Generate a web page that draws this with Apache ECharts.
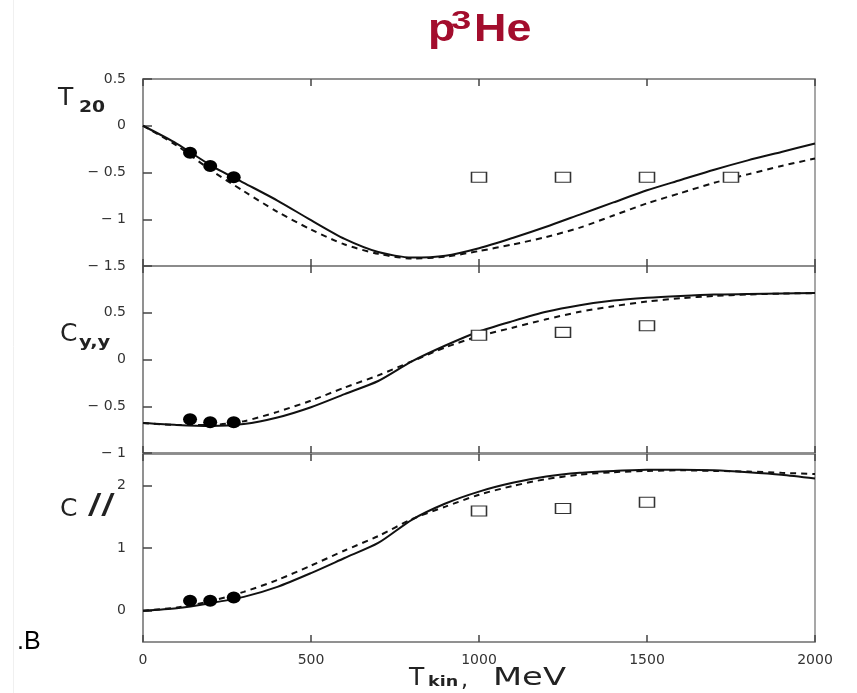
<!DOCTYPE html>
<html>
<head>
<meta charset="utf-8">
<script src="https://cdn.jsdelivr.net/npm/echarts@6/dist/echarts.min.js"></script>
<style>
  html, body { margin: 0; padding: 0; background: #fff; }
  #chart { width: 857px; height: 693px; }
</style>
</head>
<body>
<div id="chart"></div>
<script>
// Kinetic energy grid (MeV) for the model curves
const tKin = [0, 100, 200, 300, 400, 500, 600, 700, 800, 900, 1000,
              1100, 1200, 1300, 1400, 1500, 1600, 1700, 1800, 1900, 2000];

// T20: solid and dashed model curves
const t20Solid  = [0.00, -0.19, -0.42, -0.61, -0.80, -1.01, -1.21, -1.35, -1.41, -1.39, -1.31,
                   -1.20, -1.08, -0.95, -0.82, -0.69, -0.58, -0.47, -0.37, -0.28, -0.19];
const t20Dashed = [0.00, -0.21, -0.47, -0.70, -0.92, -1.11, -1.27, -1.37, -1.42, -1.40, -1.34,
                   -1.27, -1.19, -1.09, -0.96, -0.83, -0.72, -0.61, -0.52, -0.43, -0.35];

// Cy,y: solid and dashed model curves
const cyySolid  = [-0.68, -0.70, -0.71, -0.69, -0.62, -0.51, -0.37, -0.23, -0.02, 0.15, 0.30,
                   0.41, 0.51, 0.58, 0.63, 0.66, 0.68, 0.695, 0.70, 0.705, 0.71];
const cyyDashed = [-0.68, -0.70, -0.70, -0.66, -0.56, -0.44, -0.30, -0.17, -0.02, 0.13, 0.25,
                   0.34, 0.43, 0.51, 0.57, 0.62, 0.655, 0.68, 0.695, 0.705, 0.71];

// C//: solid and dashed model curves
const cllSolid  = [0.00, 0.04, 0.12, 0.22, 0.38, 0.60, 0.84, 1.08, 1.45, 1.71, 1.90,
                   2.04, 2.14, 2.20, 2.23, 2.25, 2.25, 2.24, 2.21, 2.17, 2.11];
const cllDashed = [0.00, 0.05, 0.15, 0.30, 0.49, 0.72, 0.96, 1.19, 1.46, 1.66, 1.85,
                   1.99, 2.10, 2.17, 2.21, 2.23, 2.24, 2.23, 2.22, 2.20, 2.18];

// Low-energy measurements (filled circles)
const lowT   = [140, 200, 270];
const t20Low = [-0.29, -0.43, -0.55];
const cyyLow = [-0.64, -0.67, -0.67];
const cllLow = [0.16, 0.16, 0.21];

// High-energy points (open squares)
const highT20 = [1000, 1250, 1500, 1750];
const t20High = [-0.55, -0.55, -0.55, -0.55];
const highC   = [1000, 1250, 1500];
const cyyHigh = [0.26, 0.29, 0.36];
const cllHigh = [1.59, 1.63, 1.73];

// Axis tick labels
const t20Labels   = [-1.5, -1, -0.5, 0, 0.5];
const cyyLabels   = [-1, -0.5, 0, 0.5];
const cllLabels   = [0, 1, 2];

const pairs = (xs, ys) => xs.map((x, i) => [x, ys[i]]);

const chart = echarts.init(document.getElementById('chart'), null, { renderer: 'canvas' });

const frameColor = '#8a8a8a';
const tickColor = '#444';
const labelFont = { fontFamily: 'DejaVu Sans', fontSize: 14, color: '#333' };
const fmtMinus = v => (v < 0 ? '\u2212 ' + String(-v) : String(v));

const panels = [
  { top: 79,  height: 187, min: -1.5, max: 0.5, step: 0.5, labels: t20Labels },
  { top: 266, height: 187, min: -1,   max: 1,   step: 0.5, labels: cyyLabels },
  { top: 454, height: 188, min: -0.5, max: 2.5, step: 0.5, labels: cllLabels, intTicks: true }
];

const grids = panels.map(p => ({
  left: 143, width: 672, top: p.top, height: p.height,
  show: true, borderColor: frameColor, borderWidth: 1.5, backgroundColor: 'transparent'
}));

const xAxes = [];
panels.forEach((p, i) => {
  ['bottom', 'top'].forEach(pos => {
    xAxes.push({
      type: 'value', gridIndex: i, position: pos, min: 0, max: 2000, interval: 500,
      axisLine: { show: true, onZero: false, lineStyle: { color: frameColor, width: 1.5 } },
      splitLine: { show: false },
      axisTick: { show: true, inside: true, length: 7,
                  lineStyle: { color: tickColor, width: 1.5 } },
      axisLabel: (i === 2 && pos === 'bottom')
        ? Object.assign({ show: true, margin: 11, formatter: v => String(v) }, labelFont)
        : { show: false }
    });
  });
});

const yAxes = panels.map((p, i) => {
  const tick = { show: true, inside: true, length: 9, lineStyle: { color: tickColor, width: 1.5 } };
  if (p.intTicks) tick.customValues = p.labels;
  return {
    type: 'value', gridIndex: i, min: p.min, max: p.max, interval: p.step,
    axisLine: { show: true, onZero: false, lineStyle: { color: frameColor, width: 1.5 } },
    splitLine: { show: false },
    axisTick: tick,
    axisLabel: Object.assign({ show: true, margin: 17, customValues: p.labels, formatter: fmtMinus }, labelFont)
  };
});

const lineSeries = (idx, ys, dashed) => ({
  type: 'line', xAxisIndex: idx * 2, yAxisIndex: idx,
  data: pairs(tKin, ys), showSymbol: false, smooth: 0.25, silent: true,
  lineStyle: { color: '#111', width: 2, type: dashed ? [6, 5] : 'solid' },
  z: 2
});
const dots = (idx, xs, ys) => ({
  type: 'scatter', xAxisIndex: idx * 2, yAxisIndex: idx,
  data: pairs(xs, ys), symbol: 'circle', symbolSize: [14, 12],
  itemStyle: { color: '#000', opacity: 1 }, z: 3
});
const boxes = (idx, xs, ys) => ({
  type: 'scatter', xAxisIndex: idx * 2, yAxisIndex: idx,
  data: pairs(xs, ys), symbol: 'rect', symbolSize: [15, 10],
  itemStyle: { color: '#fff', borderColor: '#333', borderWidth: 1.3, opacity: 1 }, z: 3
});

// Stretched text helper for the hand-lettered axis titles
const txt = (text, x, y, size, opts) => Object.assign({
  type: 'text', x: x, y: y, scaleX: (opts && opts.sx) || 1,
  style: {
    text: text, fontFamily: (opts && opts.family) || 'DejaVu Sans',
    fontSize: size, fontWeight: (opts && opts.weight) || 'normal',
    fill: (opts && opts.color) || '#222',
    align: 'left', verticalAlign: 'middle'
  }
});

const titleRed = '#a30d2d';

chart.setOption({
  backgroundColor: '#fff',
  animation: false,
  grid: grids,
  xAxis: xAxes,
  yAxis: yAxes,
  series: [
    lineSeries(0, t20Solid, false), lineSeries(0, t20Dashed, true),
    lineSeries(1, cyySolid, false), lineSeries(1, cyyDashed, true),
    lineSeries(2, cllSolid, false), lineSeries(2, cllDashed, true),
    dots(0, lowT, t20Low), dots(1, lowT, cyyLow), dots(2, lowT, cllLow),
    boxes(0, highT20, t20High), boxes(1, highC, cyyHigh), boxes(2, highC, cllHigh)
  ],
  graphic: [
    { type: 'line', shape: { x1: 13.5, y1: 0, x2: 13.5, y2: 693 },
      style: { stroke: '#f0f0f0', lineWidth: 1 } },
    // reaction title
    txt('p', 428, 30, 39, { family: 'Liberation Sans', weight: 'bold', color: titleRed, sx: 1.15 }),
    txt('3', 451, 22, 26, { family: 'Liberation Sans', weight: 'bold', color: titleRed, sx: 1.4 }),
    txt('He', 474, 30, 39, { family: 'Liberation Sans', weight: 'bold', color: titleRed, sx: 1.15 }),
    // panel titles
    txt('T', 58, 98, 25),
    txt('20', 79, 108, 15, { weight: 'bold', sx: 1.25 }),
    txt('C', 60, 334, 25),
    txt('y,y', 79, 343, 15, { weight: 'bold', sx: 1.3 }),
    txt('C', 60, 509, 25),
    txt('//', 88, 507, 32, { family: 'Liberation Sans', sx: 1.5 }),
    // energy axis title
    txt('T', 409, 678, 25),
    txt('kin', 428, 682, 14, { weight: 'bold', sx: 1.25 }),
    txt(',', 461, 681, 22),
    txt('MeV', 493, 678, 25, { sx: 1.35 }),
    // stray letter at lower left
    txt('.B', 17, 642, 25, { family: 'Liberation Sans', color: '#000' })
  ]
});
</script>
</body>
</html>
